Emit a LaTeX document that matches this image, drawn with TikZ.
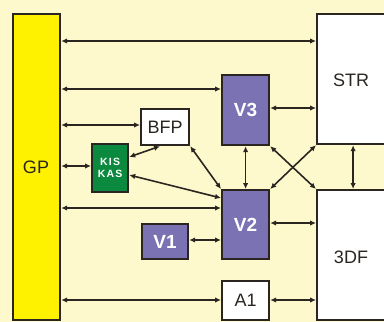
\documentclass[tikz,border=0pt]{standalone}
\usepackage{fontspec}
\setmainfont{Liberation Sans}
\usetikzlibrary{arrows.meta}
\definecolor{bg}{HTML}{FDF9CC}
\definecolor{gpyel}{HTML}{FFF200}
\definecolor{vpur}{HTML}{7B72B3}
\definecolor{kgreen}{HTML}{0B8A3F}
\definecolor{edge}{HTML}{2A2520}
\tikzset{
  box/.style={draw=edge, line width=2.2pt, anchor=north west, inner sep=0pt, font=\fontsize{18}{18}\selectfont, text=edge},
  vbox/.style={box, fill=vpur, text=white, font=\fontsize{19}{19}\selectfont\bfseries},
  wbox/.style={box, fill=white},
  conn/.style={draw=edge, line width=1.6pt, {Latex[length=6pt,width=5.5pt]}-{Latex[length=6pt,width=5.5pt]}},
}
\begin{document}
\begin{tikzpicture}[x=1pt,y=-1pt]
\useasboundingbox (0,0) rectangle (384,322);
\clip (0,0) rectangle (384,322);
\fill[bg] (0,0) rectangle (384,322);
% boxes
\node[box, fill=gpyel, minimum width=47pt, minimum height=306pt] (GP) at (12,13) {};
\node[text=edge, font=\fontsize{18}{18}\selectfont] (GPlab) at (36,167) {GP};
\node[wbox, minimum width=72pt, minimum height=130pt] (STR) at (316,13) {};
\node[text=edge, font=\fontsize{18}{18}\selectfont] (STRlab) at (351,80) {STR};
\node[wbox, minimum width=72pt, minimum height=130pt] (DF) at (316,189) {};
\node[text=edge, font=\fontsize{18}{18}\selectfont] (DFlab) at (351,257) {3DF};
\node[vbox, minimum width=47pt, minimum height=70pt] (V3) at (221,74) {V3};
\node[vbox, minimum width=47pt, minimum height=69pt] (V2) at (221,189) {V2};
\node[vbox, minimum width=46pt, minimum height=35pt] (V1) at (141,223) {V1};
\node[wbox, minimum width=47pt, minimum height=39pt] (A1) at (221,280) {A1};
\node[wbox, minimum width=48pt, minimum height=36pt] (BFP) at (140,108) {BFP};
\node[box, fill=kgreen, text=white, minimum width=36pt, minimum height=48pt, align=center,
      font=\fontsize{10.5}{12}\selectfont\bfseries\addfontfeature{LetterSpace=12}] (KIS) at (91,143) {KIS\\KAS};
% horizontal connectors from GP
\draw[conn] (GP.east |- 0,41) -- (STR.west |- 0,41);
\draw[conn] (GP.east |- 0,89) -- (V3.west |- 0,89);
\draw[conn] (GP.east |- 0,125) -- (BFP.west |- 0,125);
\draw[conn] (GP.east |- 0,166) -- (KIS.west |- 0,166);
\draw[conn] (GP.east |- 0,208) -- (V2.west |- 0,208);
\draw[conn] (GP.east |- 0,300) -- (A1.west |- 0,300);
% others
\draw[conn] (V1.east |- 0,240) -- (V2.west |- 0,240);
\draw[conn] (V2.east |- 0,223) -- (DF.west |- 0,223);
\draw[conn] (A1.east |- 0,300) -- (DF.west |- 0,300);
\draw[conn] (V3.east |- 0,108) -- (STR.west |- 0,108);
\draw[conn] (V3.south) -- (V2.north);
\draw[conn] (STR.south) -- (DF.north);
\draw[conn] (V3.south east) -- (DF.north west);
\draw[conn] (STR.south west) -- (V2.north east);
\draw[conn] (KIS.east |- 0,157) -- (BFP.south -| 160,0);
\draw[conn] (BFP.south east) -- (V2.north west);
\draw[conn] (KIS.east |- 0,175) -- (V2.west |- 0,198);
\end{tikzpicture}
\end{document}
